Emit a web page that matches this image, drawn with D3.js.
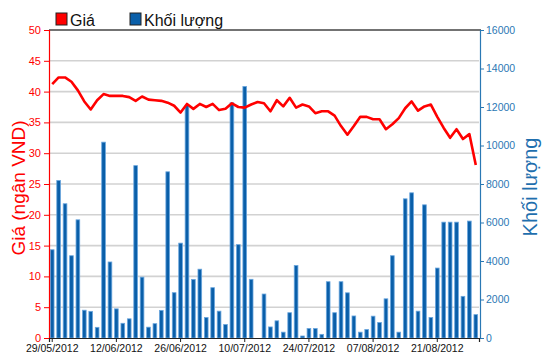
<!DOCTYPE html>
<html><head><meta charset="utf-8">
<script src="https://cdn.jsdelivr.net/npm/d3@7"></script>
<style>body{margin:0;background:#fff}svg{display:block}text{font-family:"Liberation Sans",Arial,sans-serif}</style>
</head><body><svg id="c" width="550" height="364"></svg>
<script>
const dates = ["29/05/2012","30/05/2012","31/05/2012","01/06/2012","04/06/2012","05/06/2012","06/06/2012","07/06/2012","08/06/2012","11/06/2012",
"12/06/2012","13/06/2012","14/06/2012","15/06/2012","18/06/2012","19/06/2012","20/06/2012","21/06/2012","22/06/2012","25/06/2012",
"26/06/2012","27/06/2012","28/06/2012","29/06/2012","02/07/2012","03/07/2012","04/07/2012","05/07/2012","06/07/2012","09/07/2012",
"10/07/2012","11/07/2012","12/07/2012","13/07/2012","16/07/2012","17/07/2012","18/07/2012","19/07/2012","20/07/2012","23/07/2012",
"24/07/2012","25/07/2012","26/07/2012","27/07/2012","30/07/2012","31/07/2012","01/08/2012","02/08/2012","03/08/2012","06/08/2012",
"07/08/2012","08/08/2012","09/08/2012","10/08/2012","13/08/2012","14/08/2012","15/08/2012","16/08/2012","17/08/2012","20/08/2012",
"21/08/2012","22/08/2012","23/08/2012","24/08/2012","27/08/2012","28/08/2012","29/08/2012"];
const price = [41.2,42.3,42.3,41.6,40.2,38.4,37.1,38.6,39.6,39.3,
39.3,39.3,39.1,38.5,39.2,38.7,38.6,38.5,38.2,37.7,
36.6,38.0,37.2,38.0,37.5,38.0,37.0,37.2,38.1,37.5,
37.4,37.9,38.3,38.1,36.8,38.6,37.6,39.0,37.4,37.9,
37.6,36.5,36.8,36.8,36.1,34.4,33.0,34.4,35.9,35.9,
35.5,35.5,33.9,34.7,35.7,37.3,38.4,36.9,37.6,37.9,
35.9,34.1,32.5,33.9,32.3,33.1,28.1];
const volume = [4610,8210,7000,4300,6165,1470,1410,580,10200,3975,
1540,790,1022,8980,3187,589,770,1460,8660,2380,
4954,12107,3070,3600,1091,2640,1420,727,12245,4875,
13094,3075,0,2310,600,918,329,1340,3793,130,
520,520,215,2950,1340,2950,2373,1170,329,468,
1160,830,2061,4300,329,7256,7568,1420,6944,1091,
3660,6044,6044,6044,2190,6100,1240];
const xTickLabels = ["29/05/2012","12/06/2012","26/06/2012","10/07/2012","24/07/2012","07/08/2012","21/08/2012"];
const priceTicks = [0,5,10,15,20,25,30,35,40,45,50];
const volTicks = [0,2000,4000,6000,8000,10000,12000,14000,16000];
const seriesNames = ["Giá","Khối lượng"];
const axisTitles = ["Giá (ngân VND)","Khối lượng"];

const L=49, R=479, T=30, B=338;
const red="#ff0000", blue="#2a78b4", barFill="#0a5fa9", barEdge="#6aa6de";
const svg = d3.select("#c");
const x = d3.scaleBand().domain(dates).range([L,R]).paddingInner(0.27).paddingOuter(0.135);
const yP = d3.scaleLinear().domain([0,50]).range([B,T]);
const yV = d3.scaleLinear().domain([0,16000]).range([B,T]);

// grid
svg.append("g").selectAll("line").data(priceTicks.filter(d=>d>0&&d<50)).join("line")
  .attr("x1",L).attr("x2",R).attr("y1",d=>yP(d)).attr("y2",d=>yP(d))
  .attr("stroke","#d2d2d2").attr("stroke-width",1.6);

// bars
svg.append("g").selectAll("rect").data(volume).join("rect")
  .attr("x",(d,i)=>x(dates[i])+0.5).attr("width",x.bandwidth()-1)
  .attr("y",d=>yV(d)+0.5).attr("height",d=>Math.max(0,B-yV(d)-0.5))
  .attr("fill",barFill).attr("stroke",barEdge).attr("stroke-width",0.8)
  .attr("display",d=>d>0?null:"none");

// line
const line = d3.line().x((d,i)=>x(dates[i])+x.bandwidth()/2).y(d=>yP(d)).curve(d3.curveLinear);
svg.append("path").datum(price).attr("d",line).attr("fill","none")
  .attr("stroke",red).attr("stroke-width",2.6).attr("stroke-linejoin","round");

// top border
svg.append("line").attr("x1",L).attr("x2",R+2).attr("y1",T).attr("y2",T).attr("stroke","#444").attr("stroke-width",1.5);

// left axis
const gl = svg.append("g").attr("transform",`translate(${L},0)`)
  .call(d3.axisLeft(yP).tickValues(priceTicks).tickSize(5).tickPadding(3));
gl.select(".domain").attr("stroke",red).attr("stroke-width",1.2);
gl.selectAll(".tick line").attr("stroke",red);
gl.selectAll("text").attr("fill",red).attr("font-size","11px").style("font-family","Liberation Sans, Arial");

// right axis
const gr = svg.append("g").attr("transform",`translate(${R+1},0)`)
  .call(d3.axisRight(yV).tickValues(volTicks).tickFormat(d3.format("d")).tickSize(4).tickPadding(2));
gr.select(".domain").attr("stroke",blue).attr("stroke-width",1.2);
gr.selectAll(".tick line").attr("stroke",blue);
gr.selectAll("text").attr("fill",blue).attr("font-size","10.5px").style("font-family","Liberation Sans, Arial");

// bottom axis
const gb = svg.append("g").attr("transform",`translate(0,${B})`)
  .call(d3.axisBottom(x).tickValues(xTickLabels).tickSize(4).tickPadding(3));
gb.select(".domain").attr("stroke","#222").attr("stroke-width",1.2);
gb.selectAll(".tick line").attr("stroke","#222");
gb.selectAll("text").attr("fill","#111").attr("font-size","10.5px").style("font-family","Liberation Sans, Arial");

// axis titles
svg.append("text").attr("transform","translate(25,188) rotate(-90)").attr("text-anchor","middle")
  .attr("fill",red).attr("font-size","19px").text(axisTitles[0]);
svg.append("text").attr("transform","translate(537,187) rotate(-90)").attr("text-anchor","middle")
  .attr("fill","#1f6fae").attr("font-size","20px").text(axisTitles[1]);

// legend
const lg = svg.append("g");
[[56,red],[130,barFill]].forEach((p,i)=>{
  lg.append("rect").attr("x",p[0]).attr("y",13).attr("width",11).attr("height",12)
    .attr("fill",p[1]).attr("stroke","#222").attr("stroke-width",1);
  lg.append("text").attr("x",p[0]+14).attr("y",26).attr("font-size","16px").attr("fill","#111").text(seriesNames[i]);
});
</script></body></html>
